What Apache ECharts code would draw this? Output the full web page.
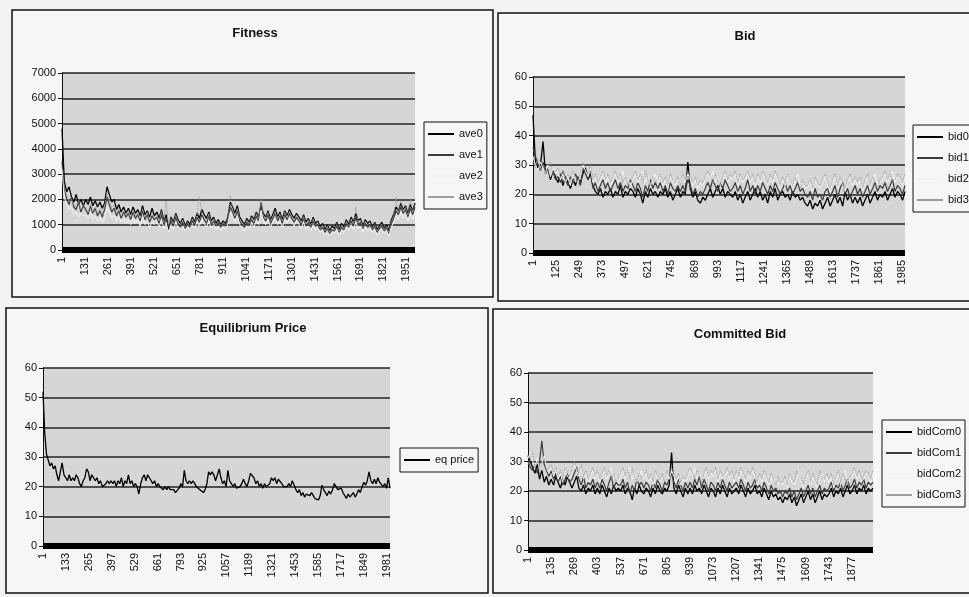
<!DOCTYPE html>
<html>
<head>
<meta charset="utf-8">
<script src="https://cdn.jsdelivr.net/npm/echarts@6/dist/echarts.min.js"></script>
<style>
  html, body { margin: 0; padding: 0; background: #f3f3f3; }
  #chart { width: 969px; height: 597px; }
</style>
</head>
<body>
<div id="chart"></div>
<script>
// Simulation run of 2000 periods, sampled values per series.
const PERIODS = 2000;

// Fitness (150 samples, ~13 periods apart)
const ave0 = [4800,2700,2300,2500,2100,1900,2200,1800,2000,1750,
  2000,1800,2100,1750,1950,1700,1900,1650,1850,2500,
  2200,1900,2000,1600,1800,1500,1700,1450,1650,1400,
  1700,1450,1600,1350,1750,1400,1550,1300,1650,1350,
  1500,1250,1600,1150,1400,800,1300,1100,1450,1200,
  1050,1250,950,1150,1000,1300,1100,1450,1250,1600,
  1400,1250,1500,1150,1300,1050,1200,1000,1150,1050,
  1300,1900,1700,1450,1750,1300,1150,1000,1250,1100,
  1350,1200,1500,1300,1750,1450,1300,1550,1200,1400,
  1650,1300,1500,1200,1550,1350,1600,1400,1250,1450,
  1300,1150,1400,1100,1250,1000,1300,1050,1150,900,
  1050,800,1000,750,950,850,1100,800,1050,900,
  1200,1000,1300,1100,1450,1150,1250,950,1200,1050,
  1150,900,1100,800,950,1100,850,1000,750,1200,
  1400,1700,1550,1850,1600,1750,1450,1800,1550,1850];
const ave1 = [3500,2400,2000,1800,2100,1700,1600,1900,1500,1750,
  1600,1400,1750,1450,1650,1350,1550,1300,1600,2100,
  1800,1500,1650,1350,1550,1250,1500,1300,1450,1200,
  1500,1250,1400,1150,1550,1200,1400,1100,1350,1200,
  1300,1050,1400,1000,1250,900,1150,950,1300,1050,
  900,1100,850,1050,900,1150,1000,1300,1100,1400,
  1200,1050,1350,1000,1150,950,1100,900,1050,950,
  1150,1700,1500,1250,1550,1150,1000,900,1100,1000,
  1200,1050,1350,1150,1900,1300,1150,1400,1050,1250,
  1450,1150,1350,1050,1400,1200,1450,1250,1100,1300,
  1150,1000,1250,950,1100,900,1150,950,1000,800,
  900,700,850,650,800,750,950,700,900,800,
  1050,900,1150,950,1300,1000,1100,850,1050,900,
  1000,800,950,700,850,950,750,900,650,1050,
  1250,1550,1400,1700,1450,1600,1300,1650,1400,1700];
const ave2 = [3200,2100,1800,1600,1700,1400,1500,1300,1450,1350,
  1400,1250,1500,1200,1350,1150,1300,1100,1250,1700,
  1500,1250,1400,1150,1300,1100,1250,1050,1200,1000,
  1250,1050,1200,950,1300,1000,1150,900,1100,1000,
  1100,900,1200,850,1050,700,1000,800,1100,900,
  800,950,750,900,800,1000,850,1100,950,1200,
  1050,900,1150,850,1000,800,950,750,900,800,
  1000,1500,1300,1100,1350,1000,850,750,950,850,
  1050,900,1150,1000,1550,1150,1000,1200,900,1100,
  1250,1000,1150,900,1200,1050,1250,1100,950,1150,
  1000,850,1100,800,950,750,1000,800,850,700,
  750,600,700,550,700,650,800,600,750,700,
  900,750,1000,800,1100,850,950,700,900,750,
  850,700,800,600,750,800,650,750,550,900,
  1100,1350,1200,1500,1250,1400,1150,1450,1200,1500];
const ave3 = [3000,2500,2200,1900,2000,1800,1700,1950,1600,1800,
  1700,1500,1800,1550,1700,1450,1650,1400,1750,2300,
  1900,1650,1800,1450,1650,1350,1600,1400,1550,1300,
  1600,1350,1500,1250,1650,1300,1500,1200,1450,1300,
  1400,1150,1550,1100,1950,1000,1250,1050,1400,1150,
  1000,1200,900,1100,950,1250,1050,1400,2100,1500,
  1300,1150,1450,1100,1250,1000,1150,950,1100,1000,
  1250,2150,1600,1350,1650,1250,1100,950,1200,1050,
  1300,1150,1450,1250,2050,1400,1250,1500,1150,1350,
  1550,1250,1450,1150,1500,1300,1550,1350,1200,1400,
  1250,1100,1350,1050,1200,950,1250,1000,1100,850,
  1000,750,950,700,900,800,1050,750,1000,850,
  1150,950,1250,1050,1700,1100,1200,900,1150,1000,
  1100,850,1050,750,900,1050,800,950,700,1150,
  1350,2100,1500,1950,1550,1700,1400,2000,1500,1800];

// Bid (150 samples)
const bid0 = [47,31,29,30,38,27,29,25,28,26,
  24,27,23,26,24,22,25,23,26,24,
  27,29,25,27,23,21,20,22,19,21,
  20,22,19,21,20,23,19,21,20,22,
  21,19,22,20,17,21,19,22,20,21,
  19,21,20,22,19,21,18,20,22,19,
  21,20,31,22,19,21,18,17,19,18,
  20,22,19,21,23,20,22,19,21,20,
  19,21,18,20,17,19,21,18,20,22,
  19,21,18,20,17,21,19,22,18,20,
  21,19,20,18,21,19,20,18,19,17,
  16,18,15,17,16,18,15,17,19,16,
  18,20,17,19,16,21,18,20,17,19,
  17,19,16,18,20,17,19,21,18,20,
  19,21,18,20,22,19,21,20,18,21];
const bid1 = [36,33,30,28,31,27,29,26,28,25,
  26,24,28,25,23,26,24,27,25,23,
  29,27,25,28,22,24,21,23,25,22,
  24,21,23,25,22,24,21,23,22,25,
  23,21,24,22,19,23,21,25,22,24,
  22,24,21,23,20,24,22,21,23,21,
  23,21,25,23,20,22,19,21,20,22,
  24,22,25,23,21,24,22,25,23,21,
  22,24,21,23,20,22,25,21,23,20,
  23,21,24,22,20,23,21,24,22,20,
  22,24,21,23,20,22,24,21,22,20,
  19,21,18,22,19,20,18,21,22,19,
  21,23,19,22,24,20,22,19,21,23,
  20,22,19,21,23,20,22,24,21,23,
  22,24,21,23,25,21,23,22,20,23];
const bid2 = [33,30,28,31,29,27,30,26,29,27,
  28,25,27,24,26,23,27,25,24,26,
  30,28,26,29,24,26,23,25,27,24,
  26,23,25,27,24,26,28,24,25,23,
  25,27,24,26,28,24,26,23,25,27,
  24,26,23,25,22,26,24,23,25,24,
  26,24,27,25,23,25,22,24,23,25,
  27,25,28,24,26,23,25,27,24,26,
  25,27,23,26,24,25,27,24,26,23,
  26,24,27,25,23,26,24,27,25,22,
  25,23,26,24,22,25,27,23,24,22,
  22,24,21,25,23,22,24,26,23,21,
  24,26,22,25,23,21,24,26,23,25,
  23,25,21,24,26,22,25,27,23,24,
  25,27,24,26,28,24,26,25,23,26];
const bid3 = [31,29,32,28,30,27,29,31,27,28,
  29,26,28,25,27,24,28,26,25,27,
  31,29,27,30,25,27,24,26,28,25,
  27,24,26,28,25,27,24,26,23,25,
  26,28,25,27,24,28,25,23,26,24,
  25,27,24,26,23,27,25,24,26,23,
  27,25,28,26,24,26,23,25,24,26,
  28,26,24,27,25,23,26,28,25,27,
  26,28,24,27,25,26,28,25,27,24,
  27,25,28,26,24,27,25,28,26,23,
  26,24,27,25,23,26,24,22,25,23,
  23,25,22,26,24,23,25,27,24,22,
  25,27,23,26,24,22,25,27,24,26,
  24,26,22,25,27,23,26,24,22,25,
  26,28,25,27,24,25,27,26,24,27];

// Equilibrium price (200 samples, ~10 periods apart)
const eqPrice = [52,38,31,29,27,28,26,27,24,22, 25,28,24,23,22,24,22,23,22,24,
  23,21,20,22,23,26,25,22,24,23, 22,23,21,22,20,19.5,21,22,21,22,
  21,22,20,22,21,23,20,22,21,24, 21,22,20,21,20,17.5,21,23,24,22,
  24,23,22,21,22,20,21,20,20,19, 20,19,20,19,18.5,19,18,18.5,19.5,21,
  20,25.5,22,21,22,21,22,21,20,19.5, 19,18.5,18,19,21,25,24,25,24,22,
  24,26,23,21,22,20,25.5,22,21,20, 21,19.5,19,20,21,22.5,21,20,22,24.5,
  25,23,21,22,20,21,19.5,21,20,19.5, 21,23,22,23,21,22.5,23,21,20,19.5,
  20,21,20,22,20.5,19,18,19,17,18, 16.5,17.5,18,17,18,17,16,16.5,15.5,17,
  20.5,19,18,17,18.5,17.5,19,21,20.5,19, 18.5,19.5,18,17.5,16,17.5,16.5,17,18,16.5,
  17.5,19,18,20,21.5,20.5,22,25,22,21, 22.5,21,23,21.5,22,20,21,19.5,23,19.5];

// Committed bid (150 samples)
const bidCom0 = [32,30,28,26,29,24,27,23,25,22,
  24,22,25,23,21,24,22,25,23,21,
  23,25,21,20,22,19,21,20,22,19,
  21,19,22,20,18,21,19,22,20,21,
  20,22,19,21,20,17,21,19,22,20,
  19,21,20,18,21,19,22,20,19,21,
  20,22,33,21,19,22,20,18,21,19,
  21,19,22,20,21,19,22,20,18,21,
  20,18,21,19,22,20,18,21,19,20,
  21,19,22,20,18,21,19,20,22,19,
  20,18,21,19,17,20,18,19,17,18,
  16,18,17,19,16,18,15,17,19,16,
  18,20,17,19,16,18,20,17,19,18,
  19,21,18,20,19,21,18,20,22,19,
  20,22,19,21,20,22,19,21,20,21];
const bidCom1 = [30,28,27,29,26,30,37,29,27,25,
  27,24,26,23,25,22,24,26,23,24,
  26,28,24,22,25,21,23,22,24,21,
  23,21,24,22,20,23,25,21,23,22,
  22,24,21,23,19,22,20,24,22,23,
  21,23,22,20,23,21,24,22,20,23,
  22,24,26,23,21,24,22,20,23,21,
  23,21,24,22,25,21,24,22,20,23,
  22,20,23,21,24,22,20,23,21,22,
  23,21,24,22,20,23,21,22,24,21,
  22,20,23,21,19,22,20,21,19,20,
  18,20,19,21,18,20,17,19,21,18,
  20,22,19,21,18,20,22,19,21,20,
  21,23,20,22,21,23,20,22,24,21,
  22,24,21,23,22,24,21,23,22,23];
const bidCom2 = [31,33,30,28,31,27,29,32,28,26,
  28,25,27,24,26,23,27,25,24,26,
  29,27,25,28,24,26,23,25,27,24,
  26,23,25,27,24,26,28,24,25,23,
  25,27,24,26,28,24,26,23,25,27,
  24,26,23,25,22,26,24,23,25,24,
  26,24,27,25,23,25,22,24,23,25,
  27,25,28,24,26,23,25,27,24,26,
  25,27,23,26,24,25,27,24,26,23,
  26,24,27,25,23,26,24,27,25,22,
  25,23,26,24,22,25,23,24,22,23,
  22,24,21,25,23,22,24,26,23,21,
  24,26,22,25,23,21,24,26,23,25,
  23,25,21,24,26,22,25,27,23,24,
  25,27,24,26,23,24,26,25,23,26];
const bidCom3 = [29,31,33,28,30,27,29,31,27,28,
  29,26,28,25,27,24,28,26,25,27,
  30,28,26,29,25,27,24,26,28,25,
  27,24,26,28,25,27,24,26,23,25,
  26,28,25,27,24,28,25,23,26,24,
  25,27,24,26,23,27,25,24,26,23,
  27,25,28,26,24,26,23,25,24,26,
  28,26,24,27,25,23,26,28,25,27,
  26,28,24,27,25,26,28,25,27,24,
  27,25,28,26,24,27,25,28,26,23,
  26,24,27,25,23,26,24,22,25,23,
  23,25,22,26,24,23,27,25,24,22,
  25,27,23,26,24,22,27,25,24,26,
  24,26,22,25,27,23,26,24,22,25,
  26,28,25,27,24,25,27,26,24,27];

// Category labels (periods) and label step per panel
const periods = Array.from({ length: PERIODS }, (_, i) => String(i + 1));
const labelSteps = [130, 124, 132, 134];

// Places sampled values onto the period axis
function toPairs(values) {
  const n = values.length;
  return values.map((v, k) => [Math.round(k * (PERIODS - 1) / (n - 1)), v]);
}

const FONT = '"Liberation Sans", Arial, sans-serif';
const styles = [
  { color: '#000000', type: 'solid', width: 1.3 },
  { color: '#3c3c3c', type: 'solid', width: 1.2 },
  { color: '#f2f2f2', type: 'solid', width: 1 },
  { color: '#9c9c9c', type: 'dotted', width: 1 }
];

const panels = [
  { title: 'Fitness', tx: 250, ty: 22, grid: { left: 62, top: 73, width: 353, height: 177 },
    yMax: 7000, yInt: 1000, legend: { left: 424, top: 122 },
    series: [['ave0', ave0], ['ave1', ave1], ['ave2', ave2], ['ave3', ave3]] },
  { title: 'Bid', tx: 740, ty: 25, grid: { left: 533, top: 77, width: 372, height: 176 },
    yMax: 60, yInt: 10, legend: { left: 913, top: 125 },
    series: [['bid0', bid0], ['bid1', bid1], ['bid2', bid2], ['bid3', bid3]] },
  { title: 'Equilibrium Price', tx: 248, ty: 317, grid: { left: 43, top: 368, width: 347, height: 178 },
    yMax: 60, yInt: 10, legend: { left: 400, top: 448 },
    series: [['eq price', eqPrice]] },
  { title: 'Committed Bid', tx: 735, ty: 323, grid: { left: 528, top: 373, width: 345, height: 177 },
    yMax: 60, yInt: 10, legend: { left: 882, top: 420 },
    series: [['bidCom0', bidCom0], ['bidCom1', bidCom1], ['bidCom2', bidCom2], ['bidCom3', bidCom3]] }
];

const option = {
  backgroundColor: '#f3f3f3',
  animation: false,
  title: [], grid: [], xAxis: [], yAxis: [], legend: [], series: [],
  graphic: [
    // panel frames
    { type: 'rect', shape: { x: 12, y: 10, width: 481, height: 287 }, style: { fill: '#f6f6f6', stroke: '#111', lineWidth: 1.5 }, z: -10 },
    { type: 'rect', shape: { x: 498, y: 13, width: 480, height: 288 }, style: { fill: '#f6f6f6', stroke: '#111', lineWidth: 1.5 }, z: -10 },
    { type: 'rect', shape: { x: 6, y: 308, width: 482, height: 285 }, style: { fill: '#f6f6f6', stroke: '#111', lineWidth: 1.5 }, z: -10 },
    { type: 'rect', shape: { x: 493, y: 309, width: 485, height: 284 }, style: { fill: '#f6f6f6', stroke: '#111', lineWidth: 1.5 }, z: -10 }
  ]
};

panels.forEach((p, i) => {
  option.title.push({
    text: p.title, left: p.tx, top: p.ty, textAlign: 'center',
    textStyle: { fontFamily: FONT, fontSize: 13, fontWeight: 'bold', color: '#111' }
  });
  option.grid.push(Object.assign({ show: true, backgroundColor: '#d6d6d6', borderWidth: 0 }, p.grid));
  option.xAxis.push({
    type: 'category', gridIndex: i, data: periods, boundaryGap: false,
    axisLine: { lineStyle: { color: '#000', width: 6, cap: 'butt' } },
    axisTick: { show: false },
    axisLabel: { interval: labelSteps[i] - 1, rotate: 90, margin: 7, fontFamily: FONT, fontSize: 11, color: '#111' },
    splitLine: { show: false }
  });
  option.yAxis.push({
    type: 'value', gridIndex: i, min: 0, max: p.yMax, interval: p.yInt,
    axisLine: { show: true, lineStyle: { color: '#111', width: 1 } },
    axisTick: { show: true, length: 4, lineStyle: { color: '#111' } },
    axisLabel: { margin: 6, fontFamily: FONT, fontSize: 11, color: '#111', formatter: v => String(v) },
    splitLine: { lineStyle: { color: '#222', width: 1.5 } }
  });
  option.legend.push({
    orient: 'vertical', left: p.legend.left, top: p.legend.top,
    data: p.series.map(s => s[0]),
    icon: 'rect',
    backgroundColor: '#f6f6f6', borderColor: '#111', borderWidth: 1,
    padding: [5, 4, 5, 4], itemGap: 7, itemWidth: 26, itemHeight: 2,
    textStyle: { fontFamily: FONT, fontSize: 11, color: '#111', lineHeight: 14 }
  });
  p.series.forEach((s, j) => {
    option.series.push({
      name: s[0], type: 'line', xAxisIndex: i, yAxisIndex: i,
      data: toPairs(s[1]), symbol: 'none', showSymbol: false,
      lineStyle: styles[j], itemStyle: { color: styles[j].color },
      emphasis: { disabled: true }
    });
  });
});

const chart = echarts.init(document.getElementById('chart'), null, { renderer: 'canvas' });
chart.setOption(option);
</script>
</body>
</html>
